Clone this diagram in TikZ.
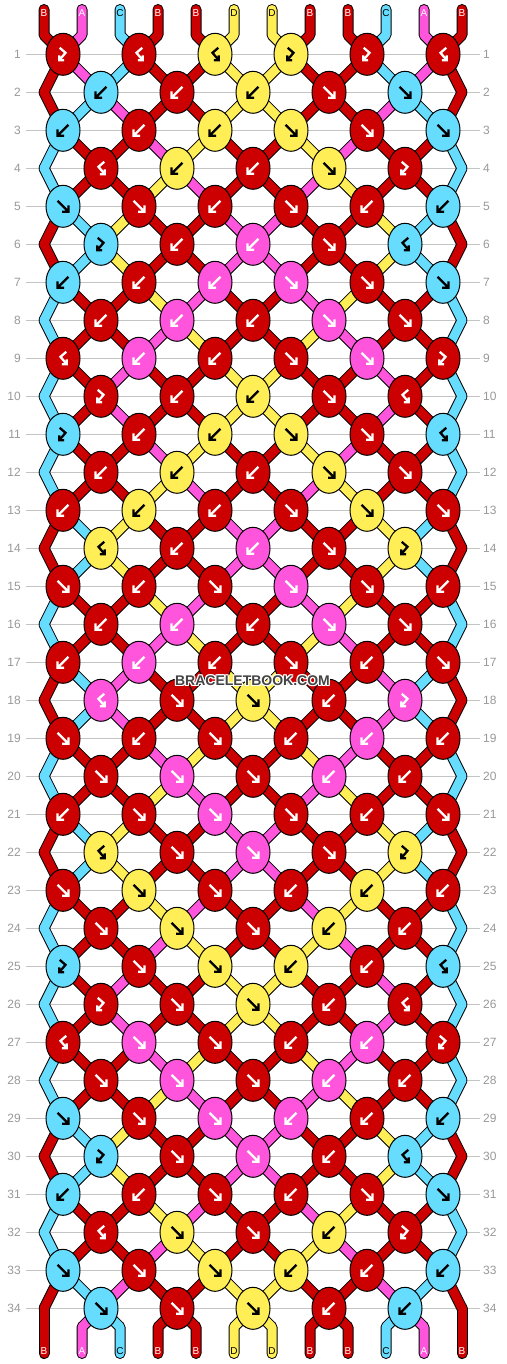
\documentclass[tikz,border=0pt]{standalone}
\usepackage{fontspec}
\setmainfont{Liberation Sans}
\usetikzlibrary{shapes.geometric}
\definecolor{colB}{HTML}{CC0000}
\definecolor{colA}{HTML}{FF55DD}
\definecolor{colC}{HTML}{66DDFF}
\definecolor{colD}{HTML}{FFEE55}
\definecolor{gridgray}{HTML}{C4C4C4}
\definecolor{labgray}{HTML}{999999}
\definecolor{wmgray}{HTML}{444444}
\def\arcB{white}\def\arcA{white}\def\arcC{black}\def\arcD{black}
\newcommand\bbSet[2]{\expandafter\xdef\csname bbs#1\endcsname{#2}}
\newcommand\defrow[2]{\expandafter\def\csname bbrow#1\endcsname{#2}}
\def\tyF{F}\def\tyB{B}\def\tyFB{FB}\def\tyBF{BF}
\tikzset{
  strandout/.style={line width=11pt, draw=black, line cap=round, line join=round},
  strandin/.style={line width=9pt, line cap=round, line join=round},
  knot/.style={ellipse, draw=black, line width=1pt, minimum width=34pt, minimum height=42pt, inner sep=0pt},
  glyph/.style={line width=2.3pt, line cap=butt, line join=miter},
  rowlab/.style={text=labgray, font=\fontsize{12}{14}\selectfont, inner sep=0pt},
  endlab/.style={font=\fontsize{10}{12}\selectfont, inner sep=0pt},
  gridline/.style={draw=gridgray, line width=1pt},
  wm/.style={font=\fontsize{14}{16}\selectfont\bfseries, inner sep=0pt}
}
\newcommand\bbgF[2]{\draw[glyph,draw=#1,shift={(#2)}] (-5.5,-5.5) -- (5.5,5.5) (5.5,-1) -- (5.5,5.5) -- (-1,5.5);}
\newcommand\bbgB[2]{\draw[glyph,draw=#1,shift={(#2)}] (5.5,-5.5) -- (-5.5,5.5) (-5.5,-1) -- (-5.5,5.5) -- (1,5.5);}
\newcommand\bbgFB[2]{\draw[glyph,draw=#1,shift={(#2)}] (-3.3,-6.5) -- (2.5,-1.5) -- (-3.8,6) (-3.8,1) -- (-3.8,6) -- (1.2,6);}
\newcommand\bbgBF[2]{\draw[glyph,draw=#1,shift={(#2)}] (3.3,-6.5) -- (-2.5,-1.5) -- (3.8,6) (3.8,1) -- (3.8,6) -- (-1.2,6);}
\defrow{1}{FB,BF,BF,FB,FB,BF}
\defrow{2}{B,B,B,F,F}
\defrow{3}{B,B,B,F,F,F}
\defrow{4}{BF,B,B,F,FB}
\defrow{5}{F,F,B,F,B,B}
\defrow{6}{FB,B,B,F,BF}
\defrow{7}{B,B,B,F,F,F}
\defrow{8}{B,B,B,F,F}
\defrow{9}{BF,B,B,F,F,FB}
\defrow{10}{FB,B,B,F,BF}
\defrow{11}{FB,B,B,F,F,BF}
\defrow{12}{B,B,B,F,F}
\defrow{13}{B,B,B,F,F,F}
\defrow{14}{BF,B,B,F,FB}
\defrow{15}{F,B,F,F,F,B}
\defrow{16}{B,B,B,F,F}
\defrow{17}{B,B,B,F,B,F}
\defrow{18}{BF,F,F,B,FB}
\defrow{19}{F,B,F,B,B,B}
\defrow{20}{F,F,F,B,B}
\defrow{21}{B,F,F,F,B,F}
\defrow{22}{BF,F,F,F,FB}
\defrow{23}{F,F,F,B,B,B}
\defrow{24}{F,F,F,B,B}
\defrow{25}{FB,F,F,B,B,BF}
\defrow{26}{FB,F,F,B,BF}
\defrow{27}{BF,F,F,B,B,FB}
\defrow{28}{F,F,F,B,B}
\defrow{29}{F,F,F,B,B,B}
\defrow{30}{FB,F,F,B,BF}
\defrow{31}{B,B,F,B,F,F}
\defrow{32}{BF,F,F,B,FB}
\defrow{33}{F,F,F,B,B,B}
\defrow{34}{F,F,F,B,B}
\begin{document}
\begin{tikzpicture}[x=1pt,y=-1pt]
\useasboundingbox (0,0) rectangle (506,1364);
\fill[white] (0,0) rectangle (506,1364);
% ---- pass 1: positions, states, knot colours, row labels, grid lines
\foreach \p/\c in {1/B,2/A,3/C,4/B,5/B,6/D,7/D,8/B,9/B,10/C,11/A,12/B}{
  \bbSet{\p}{\c}
  \pgfmathsetmacro\xx{44+38*(\p-1)}
  \coordinate (T-\p) at (\xx,9.5);
  \coordinate (P-0-\p) at (\xx,35);
  \coordinate (Q-\p) at (\xx,1327);
  \coordinate (E-\p) at (\xx,1353.5);
}
\foreach \r in {1,...,34}{
  \pgfmathsetmacro\yy{54.3+38*(\r-1)}
  \pgfmathtruncatemacro\od{mod(\r,2)}
  \node[rowlab, anchor=east] (RL-\r) at (21,\yy) {\r};
  \node[rowlab, anchor=west] (RR-\r) at (483,\yy) {\r};
  \draw[gridline] ([xshift=5pt]RL-\r.east) -- ([xshift=-3pt]RR-\r.west);
  \foreach \p in {1,...,12}{
    \ifnum\od=1
      \pgfmathtruncatemacro\pz{\p-1+mod(\p,2)}
      \pgfmathsetmacro\xx{25+38*\pz}
    \else
      \pgfmathtruncatemacro\pz{\p-mod(\p,2)}
      \pgfmathsetmacro\xx{25+38*\pz}
      \ifnum\p=1 \def\xx{44}\fi
      \ifnum\p=12 \def\xx{462}\fi
    \fi
    \coordinate (P-\r-\p) at (\xx,\yy);
    \expandafter\xdef\csname bbst-\r-\p\endcsname{\csname bbs\p\endcsname}
  }
  \edef\Tl{\csname bbrow\r\endcsname}
  \foreach \t [count=\k] in \Tl {
    \edef\tcur{\t}
    \pgfmathtruncatemacro\pl{2*\k-\od}
    \pgfmathtruncatemacro\pr{\pl+1}
    \edef\bbL{\csname bbs\pl\endcsname}
    \edef\bbR{\csname bbs\pr\endcsname}
    \ifx\tcur\tyF \edef\kc{\bbL}\bbSet{\pl}{\bbR}\bbSet{\pr}{\bbL}\fi
    \ifx\tcur\tyB \edef\kc{\bbR}\bbSet{\pl}{\bbR}\bbSet{\pr}{\bbL}\fi
    \ifx\tcur\tyFB \edef\kc{\bbL}\fi
    \ifx\tcur\tyBF \edef\kc{\bbR}\fi
    \expandafter\xdef\csname bbkc-\r-\k\endcsname{\kc}
    \expandafter\xdef\csname bbkp-\r-\k\endcsname{\pl}
  }
}
% ---- pass 2: black outlines of all strands
\foreach \p in {1,...,12}{
  \draw[strandout] (T-\p) -- (P-0-\p) -- (P-1-\p);
  \draw[strandout] (P-34-\p) -- (Q-\p) -- (E-\p);
}
\foreach \r in {2,...,34}{
  \pgfmathtruncatemacro\rp{\r-1}
  \foreach \p in {1,...,12}{\draw[strandout] (P-\rp-\p) -- (P-\r-\p);}
}
% ---- pass 3: coloured strands
\foreach \p [count=\i] in {1,...,12}{
  \edef\cc{col\csname bbst-1-\p\endcsname}
  \draw[strandin,draw=\cc] (T-\p) -- (P-0-\p) -- (P-1-\p);
  \edef\cc{col\csname bbs\p\endcsname}
  \draw[strandin,draw=\cc] (P-34-\p) -- (Q-\p) -- (E-\p);
}
\foreach \r in {2,...,34}{
  \pgfmathtruncatemacro\rp{\r-1}
  \foreach \p in {1,...,12}{
    \edef\cc{col\csname bbst-\r-\p\endcsname}
    \draw[strandin,draw=\cc] (P-\rp-\p) -- (P-\r-\p);
  }
}
% ---- pass 4: knots with arrows
\foreach \r in {1,...,34}{
  \edef\Tl{\csname bbrow\r\endcsname}
  \foreach \t [count=\k] in \Tl {
    \edef\tcur{\t}
    \edef\kc{\csname bbkc-\r-\k\endcsname}
    \edef\pl{\csname bbkp-\r-\k\endcsname}
    \edef\kfill{col\kc}
    \edef\kar{\csname arc\kc\endcsname}
    \node[knot, fill=\kfill] (K-\r-\k) at (P-\r-\pl) {};
    \csname bbg\tcur\endcsname{\kar}{K-\r-\k.center}
  }
}
% ---- end labels
\foreach \p in {1,...,12}{
  \edef\cl{\csname bbst-1-\p\endcsname}
  \edef\ac{\csname arc\cl\endcsname}
  \node[endlab,text=\ac] (TL-\p) at (T-\p) [yshift=-3.5pt] {\cl};
  \edef\cl{\csname bbs\p\endcsname}
  \edef\ac{\csname arc\cl\endcsname}
  \node[endlab,text=\ac] (BL-\p) at (E-\p) [yshift=2.5pt] {\cl};
}
% ---- watermark
\foreach \dx/\dy [count=\i] in {-1/0,1/0,0/-1,0/1,-1/-1,1/1,-1/1,1/-1}{
  \node[wm,text=white] (WMh-\i) at (252.5+\dx,681+\dy) {BRACELETBOOK.COM};
}
\node[wm,text=wmgray] (WM) at (252.5,681) {BRACELETBOOK.COM};
\end{tikzpicture}
\end{document}
